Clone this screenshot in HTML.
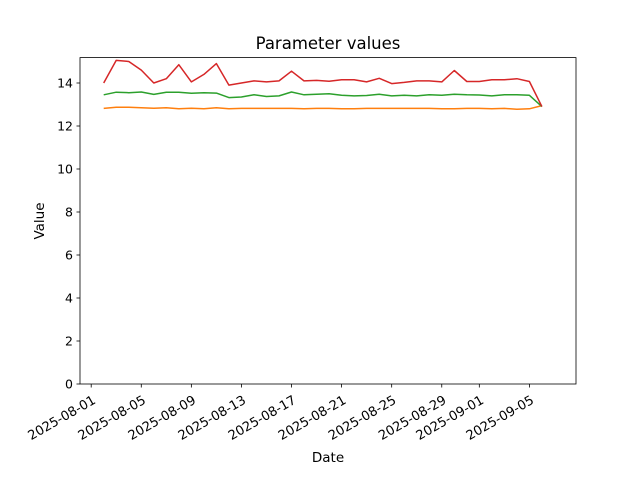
<!DOCTYPE html>
<html><head><meta charset="utf-8"><style>
html,body{margin:0;padding:0;background:#fff;}
svg text{font-family:"DejaVu Sans","Liberation Sans",sans-serif;fill:#000;}
</style></head><body>
<svg id="s" width="640" height="480" viewBox="0 0 640 480" xmlns="http://www.w3.org/2000/svg">
<rect width="640" height="480" fill="#fff"/>
<text x="328" y="49" font-size="16.5" text-anchor="middle">Parameter values</text>
<g id="series"></g>
<rect x="80" y="57.6" width="496" height="326.4" fill="none" stroke="#000" stroke-width="0.8"/>
<g id="ticks"></g>
<text x="328" y="462" font-size="13.5" text-anchor="middle">Date</text>
<text transform="translate(44,221) rotate(-90)" font-size="13.5" text-anchor="middle">Value</text>
</svg>
<script>
var ns="http://www.w3.org/2000/svg";
function el(t,a,p,txt){var e=document.createElementNS(ns,t);for(var k in a)e.setAttribute(k,a[k]);if(txt!=null)e.textContent=txt;p.appendChild(e);return e;}
var T=document.getElementById('ticks'),S=document.getElementById('series');
var X0=91.2,DX=12.52,Y0=384,DY=21.5;
function X(d){return X0+d*DX;}function Y(v){return Y0-v*DY;}
for(var v=0;v<=14;v+=2){var y=Y(v);el('line',{x1:80,x2:76.5,y1:y,y2:y,stroke:'#000','stroke-width':0.8},T);el('text',{x:73,y:y+4.5,'font-size':12.5,'text-anchor':'end'},T,v);}
var labs=['2025-08-01','2025-08-05','2025-08-09','2025-08-13','2025-08-17','2025-08-21','2025-08-25','2025-08-29','2025-09-01','2025-09-05'];
var days=[0,4,8,12,16,20,24,28,31,35];
for(var i=0;i<labs.length;i++){var x=X(days[i]);el('line',{x1:x,x2:x,y1:384,y2:387.5,stroke:'#000','stroke-width':0.8},T);el('text',{transform:'translate('+(x+1)+',395) rotate(-30)','font-size':13,'text-anchor':'end','dominant-baseline':'hanging'},T,labs[i]);}
var red=[14.0,15.05,15.0,14.6,14.0,14.2,14.85,14.05,14.4,14.9,13.9,14.0,14.1,14.05,14.1,14.55,14.1,14.12,14.08,14.15,14.15,14.05,14.22,13.97,14.03,14.1,14.1,14.05,14.58,14.07,14.07,14.15,14.15,14.2,14.07,12.9];
var green=[13.45,13.57,13.55,13.58,13.47,13.57,13.57,13.52,13.55,13.53,13.32,13.35,13.45,13.37,13.4,13.58,13.45,13.48,13.5,13.43,13.4,13.42,13.48,13.4,13.43,13.4,13.45,13.43,13.48,13.45,13.44,13.4,13.45,13.45,13.43,12.9];
var orange=[12.82,12.87,12.87,12.85,12.83,12.85,12.8,12.83,12.8,12.85,12.8,12.82,12.82,12.82,12.82,12.82,12.8,12.82,12.82,12.8,12.8,12.82,12.82,12.82,12.82,12.82,12.82,12.8,12.8,12.82,12.82,12.8,12.82,12.78,12.8,12.95];
[[orange,'#ff7f0e'],[green,'#2ca02c'],[red,'#d62728']].forEach(function(s){var p=s[0].map(function(v,i){return X(i+1).toFixed(1)+','+Y(v).toFixed(1)}).join(' ');el('polyline',{points:p,fill:'none',stroke:s[1],'stroke-width':1.5,'stroke-linejoin':'round'},S);});
</script>
</body></html>
